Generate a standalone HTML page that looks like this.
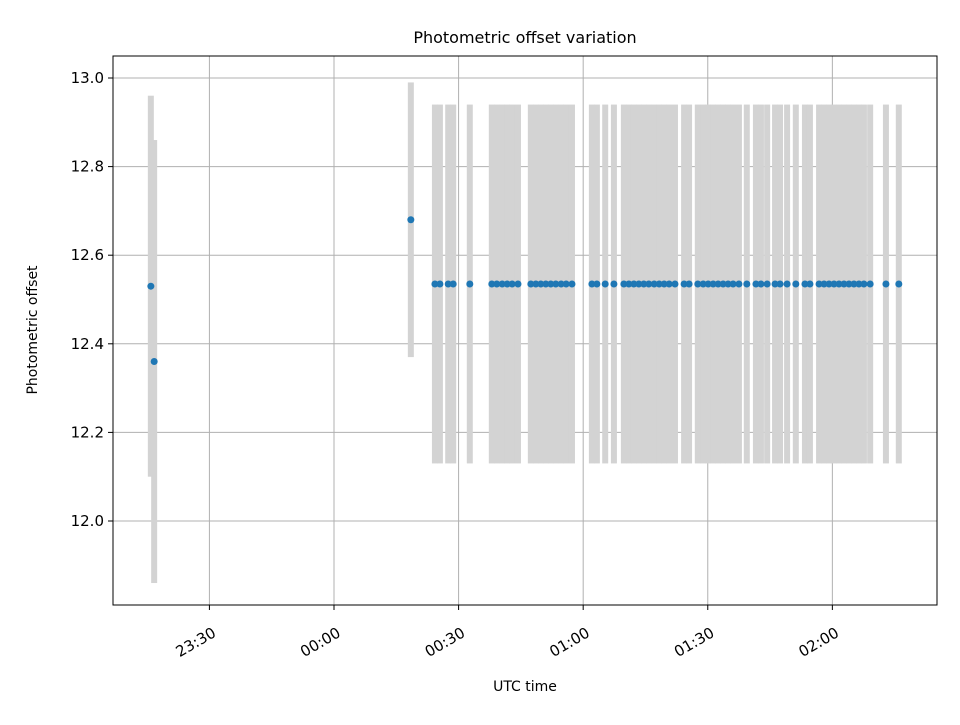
<!DOCTYPE html>
<html><head><meta charset="utf-8"><style>body{margin:0;background:#fff}svg{font-family:"DejaVu Sans","Liberation Sans",sans-serif}</style></head>
<body>
<svg id="chart" width="960" height="720" xmlns="http://www.w3.org/2000/svg">
<rect x="0" y="0" width="960" height="720" fill="#fff"/>
<text x="525" y="43" font-size="16" text-anchor="middle">Photometric offset variation</text>
<g id="grid"></g><g id="errs"></g><g id="pts"></g><g id="axes"></g>
<rect x="113" y="56" width="824" height="549" fill="none" stroke="#000" stroke-width="1"/>
<text x="525" y="691" font-size="14" text-anchor="middle">UTC time</text>
<text x="37" y="330" font-size="14" text-anchor="middle" transform="rotate(-90 37 330)">Photometric offset</text>
</svg>
<script>
// minutes after 00:00 UTC
const times=[-44.1,-43.3,18.5,24.3,25.5,27.5,28.7,32.7,38.0,39.2,40.5,41.7,42.9,44.3,47.4,48.6,49.8,51.0,52.2,53.4,54.7,55.9,57.3,62.1,63.3,65.3,67.4,69.8,71.0,72.2,73.4,74.6,75.8,77.1,78.3,79.5,80.7,82.1,84.3,85.5,87.6,88.9,90.1,91.3,92.5,93.7,94.9,96.1,97.5,99.4,101.6,102.8,104.3,106.2,107.4,109.1,111.2,113.4,114.6,116.8,118.0,119.2,120.4,121.6,122.8,124.0,125.2,126.4,127.6,129.1,132.9,136.0];
const values=[12.53,12.36,12.68];
const errors=[0.43,0.5,0.31];
for(let i=3;i<times.length;i++){values.push(12.535);errors.push(0.405);}
const xTicks=[-30,0,30,60,90,120];
const xTickLabels=["23:30","00:00","00:30","01:00","01:30","02:00"];
const yTicks=[12.0,12.2,12.4,12.6,12.8,13.0];
const yTickLabels=["12.0","12.2","12.4","12.6","12.8","13.0"];
const X=m=>334+m*4.153;
const Y=v=>521-(v-12.0)*443;
const NS="http://www.w3.org/2000/svg";
function mk(tag,attrs,parent,text){const e=document.createElementNS(NS,tag);for(const k in attrs)e.setAttribute(k,attrs[k]);if(text!==undefined)e.textContent=text;document.getElementById(parent).appendChild(e);return e;}
xTicks.forEach((t,i)=>{const x=X(t);
 let g=mk('line',{x1:x,x2:x,y1:56,y2:605,stroke:'#b0b0b0','stroke-width':1},'grid');
 
 let tk=mk('line',{x1:x,x2:x,y1:605,y2:610,stroke:'#000'},'axes');
 
 let tx=mk('text',{x:x+2,y:626,'font-size':15,'text-anchor':'end',transform:`rotate(-30 ${x+2} 626)`,dy:'0.75em'},'axes',xTickLabels[i]);
 });
yTicks.forEach((t,i)=>{const y=Y(t);
 let g=mk('line',{x1:113,x2:937,y1:y,y2:y,stroke:'#b0b0b0','stroke-width':1},'grid');
 
 let tk=mk('line',{x1:108,x2:113,y1:y,y2:y,stroke:'#000'},'axes');
 
 let tx=mk('text',{x:104,y:y+5,'font-size':15,'text-anchor':'end'},'axes',yTickLabels[i]);
 });
times.forEach((t,i)=>{const x=X(t);
 let r=mk('rect',{x:x-3,y:Y(values[i]+errors[i]),width:6,height:Y(values[i]-errors[i])-Y(values[i]+errors[i]),fill:'#d3d3d3'},'errs');
 
 let c=mk('circle',{cx:x,cy:Y(values[i]),r:3.5,fill:'#1f77b4'},'pts');
 });
</script>
</body></html>
